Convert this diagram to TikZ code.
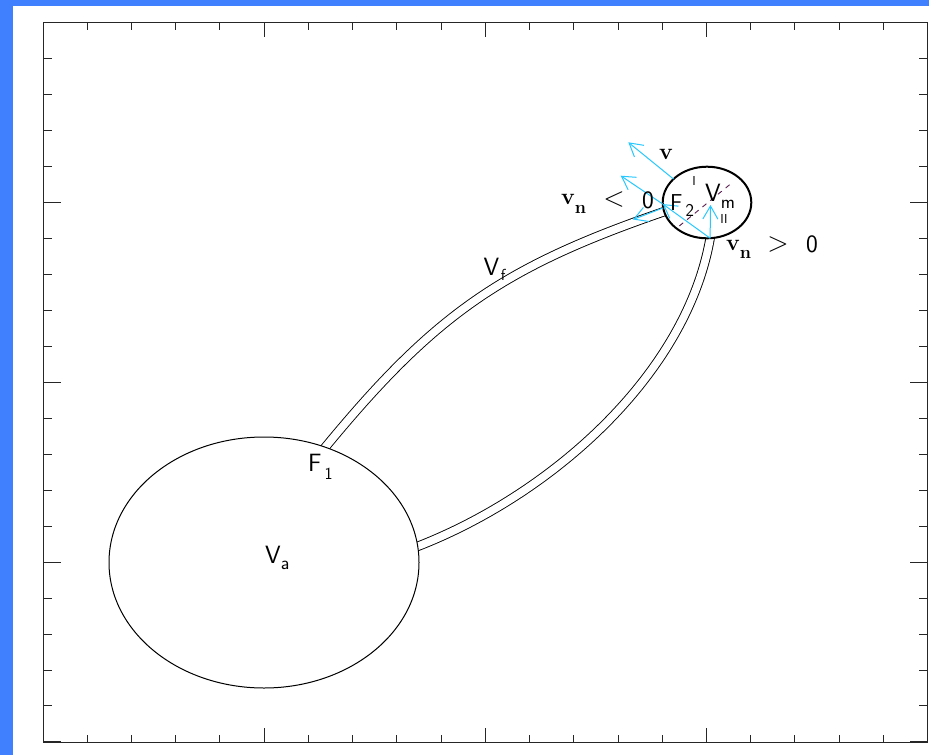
\documentclass[tikz,border=0pt]{standalone}
\usetikzlibrary{arrows.meta,shapes.geometric,calc,backgrounds}
\definecolor{bordblue}{RGB}{64,128,255}
\definecolor{vcyan}{RGB}{40,200,255}
\definecolor{dashpurple}{RGB}{90,30,80}
\begin{document}
\begin{tikzpicture}[x=1pt,y=-1pt,
  axisline/.style={draw=black!85, line width=0.9pt},
  axtick/.style={draw=black!85, line width=0.9pt},
  vol/.style={ellipse, draw=black, fill=white, inner sep=0pt, outer sep=0pt},
  tube/.style={draw=black, line width=0.9pt, double=white, double distance=7.6pt},
  vec/.style={draw=vcyan, line width=1pt, -{Straight Barb[length=13pt,width=15pt]}},
  lab/.style={inner sep=0pt, font=\sffamily\fontsize{25}{25}\selectfont},
  blab/.style={inner sep=0pt, font=\bfseries\fontsize{23}{23}\selectfont},
  dashsep/.style={draw=dashpurple, line width=0.9pt, dash pattern=on 5pt off 5pt}
]
\useasboundingbox (0,0) rectangle (929,755);
% page border
\fill[bordblue] (0,0) rectangle (13,755);
\fill[bordblue] (0,0) rectangle (929,6);
% plot frame and ticks
\draw[axisline] (43,22.5) rectangle (927.6,742);
\foreach \i in {0,...,20}{
  \pgfmathsetmacro{\tx}{43+\i*44.23}
  \pgfmathsetmacro{\tl}{ifthenelse(mod(\i,5)==0,14.4,7.2)}
  \draw[axtick] (\tx,742) -- ++(0,-\tl);
  \draw[axtick] (\tx,22.5) -- ++(0,\tl);
  \pgfmathsetmacro{\ty}{22.5+\i*35.97}
  \pgfmathsetmacro{\sl}{ifthenelse(mod(\i,5)==0,17.7,8.85)}
  \draw[axtick] (43,\ty) -- ++(\sl,0);
  \draw[axtick] (927.6,\ty) -- ++(-\sl,0);
}
% volumes
\node[vol, line width=1pt, minimum width=310pt, minimum height=251pt] (Va) at (264,562.5) {};
\node[vol, line width=2pt, minimum width=88.6pt, minimum height=71.6pt] (Vm) at (707,202.5) {};
% flux tubes
\begin{scope}[on background layer]
  \coordinate (c1) at (435,314);
  \coordinate (c2) at (503,267);
  \coordinate (c3) at (550,495);
  \coordinate (c4) at (686,376);
  \draw[tube] ($(Va.62.6)!-12pt!(c1)$) -- (Va.62.6) .. controls (c1) and (c2) .. (Vm.192.5) -- ($(Vm.192.5)!-12pt!(c2)$);
  \draw[tube] ($(Va.6.9)!-12pt!(c3)$) -- (Va.6.9) .. controls (c3) and (c4) .. (Vm.275.6) -- ($(Vm.275.6)!-12pt!(c4)$);
\end{scope}
% dividing line
\coordinate (d1) at (679.3,226);
\coordinate (d2) at (733.3,181.7);
\draw[dashsep] (d1) -- (d2);
% vectors
\coordinate (vtip) at (628.3,142.3);
\coordinate (vntip) at (620.7,175.7);
\coordinate (ltip) at (633,219.5);
\coordinate (uptip) at (710.5,205);
\draw[vec] (Vm.145.6) -- (vtip);
\draw[vec] (Vm.182) -- (vntip);
\draw[vec] (Vm.275.6) -- (Vm.182);
\draw[vec] (Vm.187.5) -- (ltip);
\draw[vec] (Vm.275.6) -- (uptip);
% labels
\node[lab, anchor=base west] (La) at (265,563) {V\raisebox{-6pt}{\fontsize{19}{19}\selectfont a}};
\node[lab, anchor=base west] (F1) at (308,471.7) {F\kern3pt\raisebox{-7.3pt}{\fontsize{17}{17}\selectfont 1}};
\node[lab, anchor=base west] (Lf) at (483.5,275) {V\kern1.5pt\raisebox{-5.7pt}{\fontsize{16}{16}\selectfont f}};
\node[lab, anchor=base west, font=\sffamily\fontsize{23}{23}\selectfont] (F2) at (670,210) {F\kern3pt\raisebox{-6.7pt}{\fontsize{18}{18}\selectfont 2}};
\node[lab, anchor=base west] (Lm) at (705,201.7) {V\raisebox{-7pt}{\fontsize{19}{19}\selectfont m}};
\node[lab, font=\sffamily\fontsize{13}{13}\selectfont] (r1) at (694,181) {I};
\node[lab, font=\sffamily\fontsize{13}{13}\selectfont] (r2) at (724,219) {II};
\node[blab] (vl) at (666,154) {v};
\node[blab, anchor=base west] (vn1) at (561,204) {v\raisebox{-9pt}{\fontsize{18}{18}\selectfont n}};
\node[lab, font=\sffamily\fontsize{28}{28}\selectfont] (lt) at (614,200) {<};
\node[lab, font=\sffamily\fontsize{25}{25}\selectfont] (z1) at (648,200) {0};
\node[blab, anchor=base west] (vn2) at (726,250.7) {v\raisebox{-8pt}{\fontsize{18}{18}\selectfont n}};
\node[lab, font=\sffamily\fontsize{28}{28}\selectfont] (gt) at (778,245) {>};
\node[lab, font=\sffamily\fontsize{25}{25}\selectfont] (z2) at (812,244) {0};
\end{tikzpicture}
\end{document}
